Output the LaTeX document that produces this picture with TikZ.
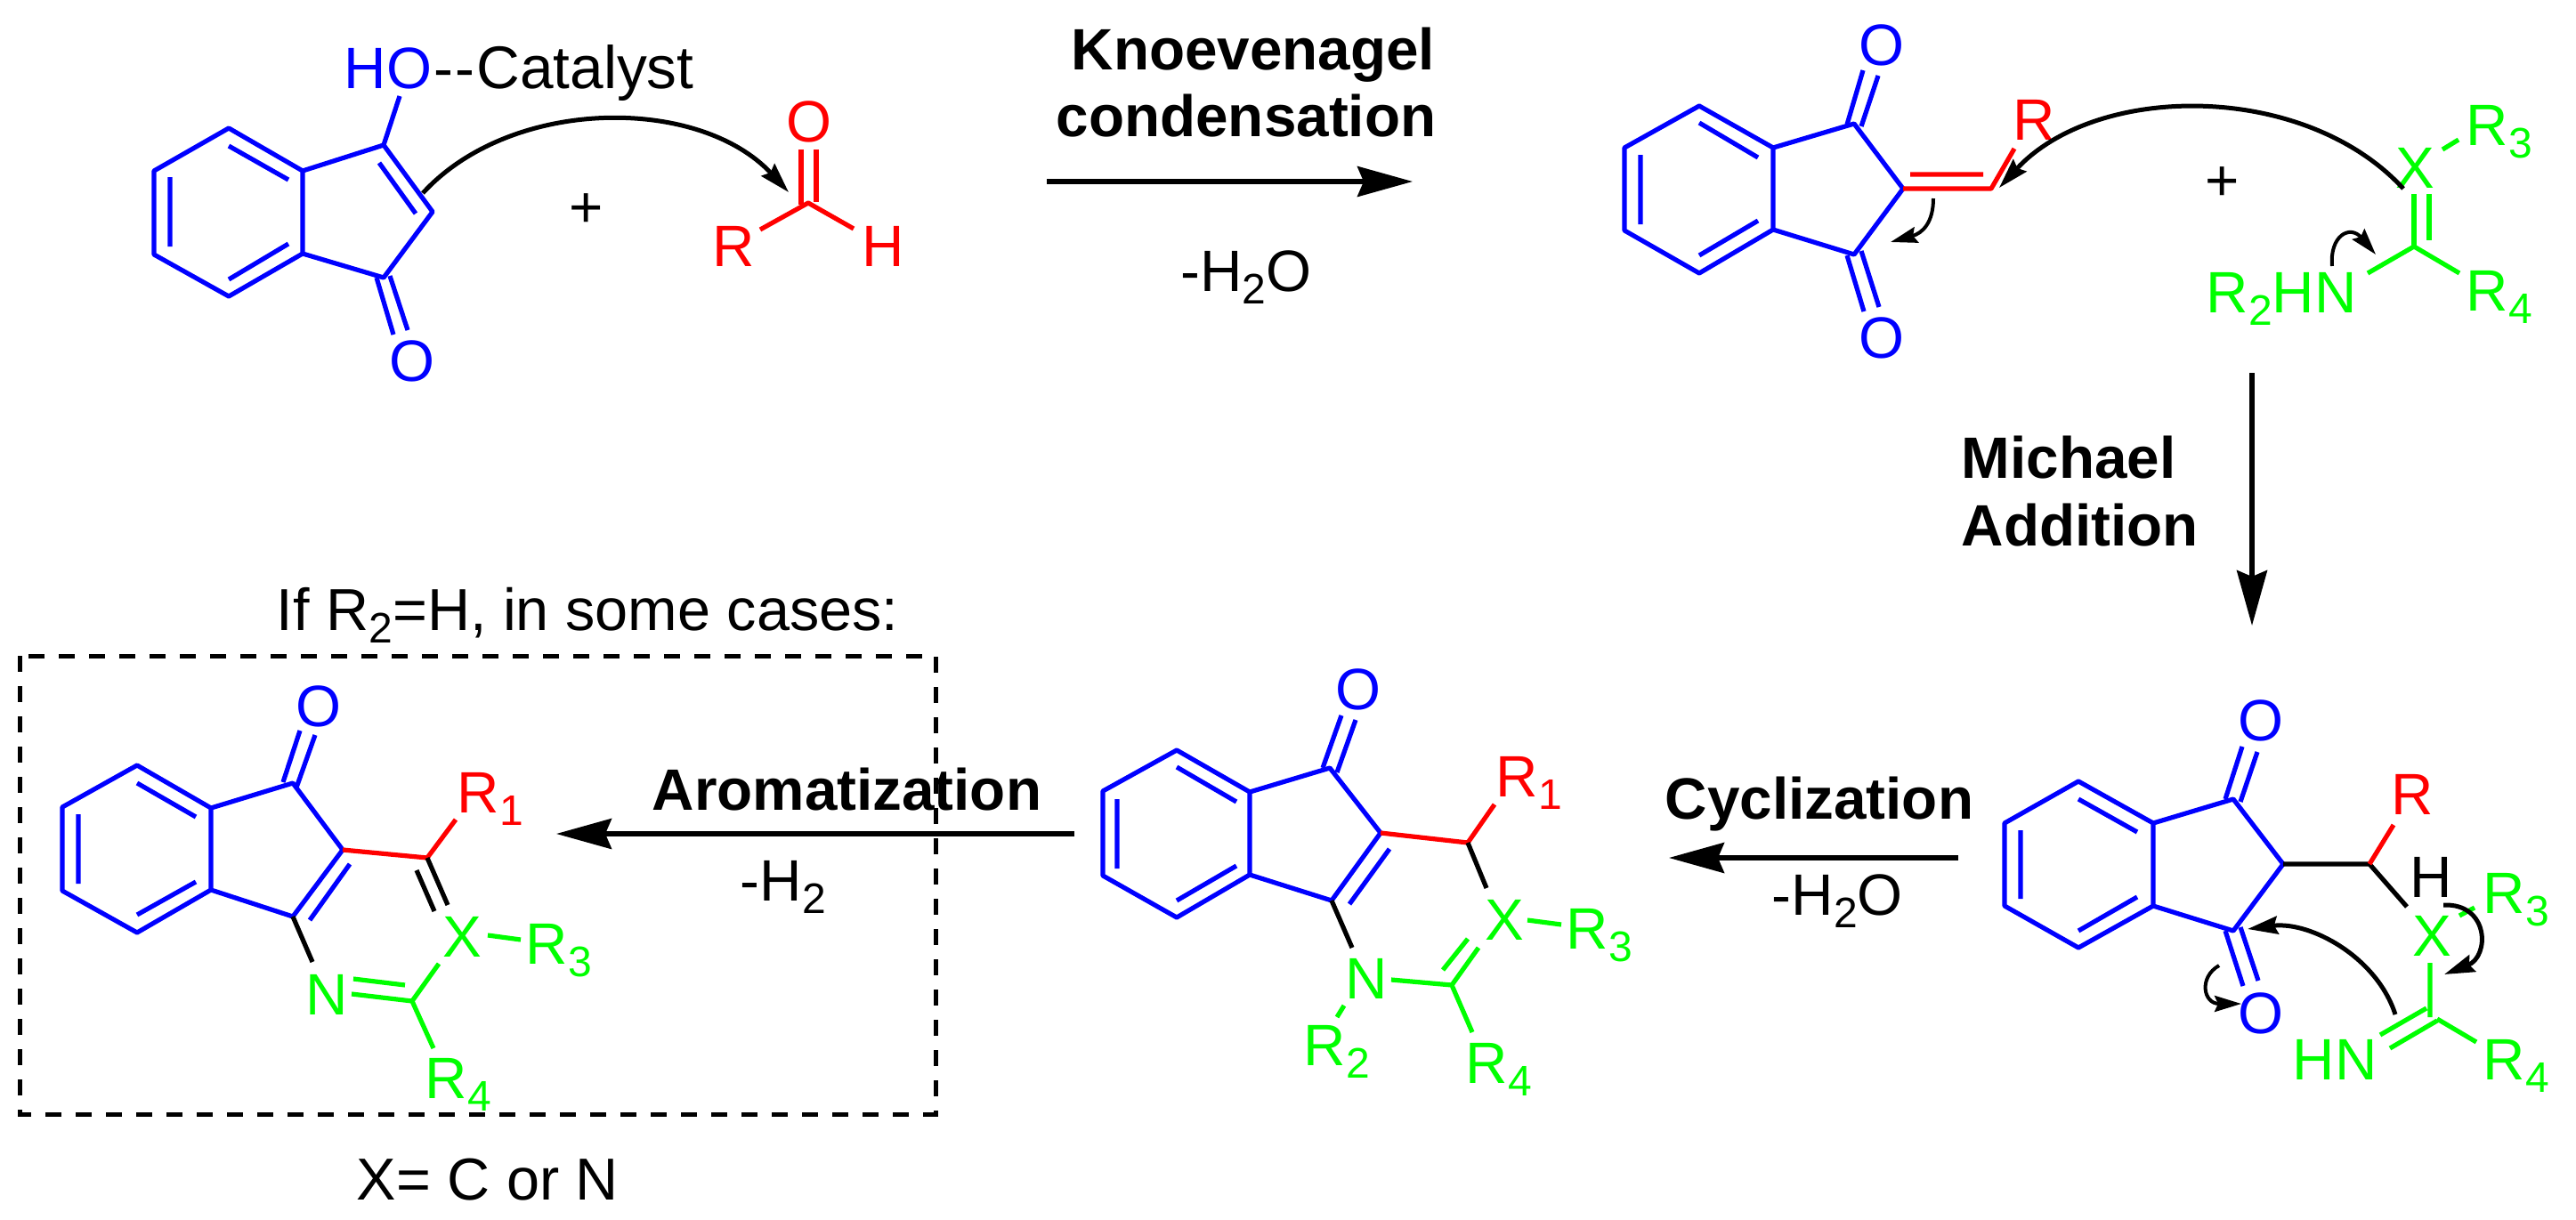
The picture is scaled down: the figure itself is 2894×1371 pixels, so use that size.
\documentclass[tikz,border=0pt]{standalone}
\usepackage{fontspec}
\setmainfont{Liberation Sans}
\usetikzlibrary{arrows.meta}
\newcommand{\subs}[1]{\raisebox{-3.5pt}{\fontsize{12pt}{12pt}\selectfont #1}}
\newcommand{\atoms}[1]{\foreach \n/\x/\y in {#1} \coordinate (\n) at (\x,\y);}
\newcommand{\indane}[1]{\draw[blueb] (#11)--(#12)--(#13)--(#14)--(#15)--(#16)--cycle (#16)--(#17)--(#18)--(#19)--(#15);
  \draw[blueb] (#1i1)--(#1i2) (#1i3)--(#1i4) (#1i5)--(#1i6);}
\newcommand{\oxo}[2]{\draw[#1] (#21)--(#22) (#23)--(#24);}

\begin{document}
\begin{tikzpicture}[x=.25pt,y=-.25pt]
\tikzset{blueb/.style = {draw=blue,line width=1.3pt,line join=round},
         redb/.style = {draw=red,line width=1.3pt,line join=round},
         greenb/.style = {draw=green,line width=1.3pt,line join=round},
         blackb/.style = {draw=black,line width=1.3pt,line join=round},
         atom/.style = {anchor=base west,inner sep=0pt,font=\fontsize{16.4pt}{18pt}\selectfont},
         note/.style = {atom,font=\fontsize{16.65pt}{18pt}\selectfont},
         label/.style = {atom,font=\fontsize{16.4pt}{18pt}\selectfont\bfseries},
         rxn/.style = {-{Stealth[length=15.5pt,width=8.5pt,inset=1.75pt]},line width=1.3pt},
         push/.style = {-{Stealth[length=8.5pt,width=5pt,inset=1pt]},line width=1.25pt},
         pushs/.style = {-{Stealth[length=7.5pt,width=4.5pt,inset=1pt]},line width=1pt},
         boxline/.style = {line width=1.25pt,dash pattern=on 4.5pt off 4pt}}
\useasboundingbox (0,0) rectangle (2894,1371);

\atoms{a1/257/144,a2/173/192,a3/173/286,a4/257/333,a5/340/285,a6/340/192,a7/431/163,a8/486/238,a9/431/312,
  ai1/257/164,ai2/324/202,ai3/191/199,ai4/191/277,ai5/257/314,ai6/324/274,ai7/426/183,ai8/467/240,
  ahb/449/108,ao1/423/312,ao2/442/376,ao3/438/310,ao4/458/371,
  fc/908/228,fo1/900/168,fo2/900/230,fo3/917/168,fo4/917/227,frb/854/258,fhb/959/257,
  pa/475/217,pb/886/216}
\indane{a}
\draw[blueb] (ai7)--(ai8) (a7)--(ahb);
\oxo{blueb}{ao}
\oxo{redb}{fo}
\draw[redb] (frb)--(fc)--(fhb);
\node[atom] (hoa) at (386,99) {\textcolor{blue}{HO}\hspace{.6pt}{-}\hspace{.6pt}{-}\hspace{.4pt}{\fontsize{16.9pt}{18pt}\selectfont Catalyst}};
\node[atom,text=blue] (oa) at (437,428) {O};
\node[atom,text=red] (of) at (883,159) {O};
\node[atom,text=red] (rf) at (800,299) {R};
\node[atom,text=red] (hf) at (968,299) {H};
\node[atom,anchor=center] (plusa) at (659,237) {+};
\draw[push] (pa) .. controls (575,108) and (786,108) .. (pb);

\atoms{kna/1176/204,knb/1587/204,ma/2530/419,mb/2530/703,cya/2200/964,cyb/1875/964,ara/1207/937,arb/625/937}
\draw[rxn] (kna)--(knb);
\draw[rxn] (ma)--(mb);
\draw[rxn] (cya)--(cyb);
\draw[rxn] (ara)--(arb);
\node[label,anchor=base] (kn1) at (1408,78) {Knoevenagel};
\node[label,anchor=base] (kn2) at (1400,153) {condensation};
\node[atom,anchor=base] (kn3) at (1400,327) {-H\subs{2}O};
\node[label] (mi1) at (2203,537) {Michael};
\node[label] (mi2) at (2203,613) {Addition};
\node[label] (cy1) at (1870,920) {Cyclization};
\node[atom] (cy2) at (1990,1028) {-H\subs{2}O};
\node[label] (ar1) at (732,910) {Aromatization};
\node[atom] (ar2) at (831,1012) {-H\subs{2}};
\node[note] (ifr) at (310,708) {If R\subs{2}=H, in some cases:};
\node[note] (xis) at (400,1348) {X= C or N};

\atoms{b1/1909/119,b2/1825/166,b3/1825/259,b4/1909/307,b5/1992/258,b6/1992/166,b7/2083/139,b8/2138/212,b9/2083/286,
  bi1/1909/138,bi2/1975/177,bi3/1843/174,bi4/1843/252,bi5/1909/287,bi6/1975/248,
  bo1/2075/140,bo2/2093/79,bo3/2091/142,bo4/2110/85,bp1/2075/287,bp2/2094/350,bp3/2091/282,bp4/2111/345,
  bch/2237/212,brb/2263/167,bdb1/2146/196,bdb2/2228/196,
  bx1/2712/218,bx2/2712/277,bx3/2729/218,bx4/2729/270,bnb/2660/307,br4/2763/307,br3a/2744/168,br3b/2762/157,
  qa/2700/212,qb/2246/211,qc/2172/223,qd/2124/272,qe/2620/299,qf/2669/286}
\indane{b}
\oxo{blueb}{bo}
\oxo{blueb}{bp}
\draw[redb] (b8)--(bch)--(brb) (bdb1)--(bdb2);
\oxo{greenb}{bx}
\draw[greenb] (bnb)--(bx2)--(br4) (br3a)--(br3b);
\node[atom,text=blue] (ob1) at (2088,73) {O};
\node[atom,text=blue] (ob2) at (2088,402) {O};
\node[atom,text=red] (rb) at (2261,157) {R};
\node[atom,text=green] (xb) at (2691,211) {X};
\node[atom,text=green] (r3b) at (2770,163) {R\subs{3}};
\node[atom,text=green] (hnb) at (2478,351) {R\subs{2}HN};
\node[atom,text=green] (r4b) at (2770,349) {R\subs{4}};
\node[atom,anchor=center] (plusb) at (2497,207) {+};
\draw[push] (qa) .. controls (2590,92) and (2356,92) .. (qb);
\draw[pushs] (qc) .. controls (2172,250) and (2160,262) .. (qd);
\draw[pushs] (qe) .. controls (2617,265) and (2640,252) .. (qf);

\atoms{c1/2335/878,c2/2252/925,c3/2252/1018,c4/2335/1065,c5/2419/1018,c6/2419/925,c7/2509/898,c8/2565/971,c9/2509/1046,
  ci1/2335/898,ci2/2401/935,ci3/2270/933,ci4/2270/1010,ci5/2335/1046,ci6/2401/1008,
  co1/2500/898,co2/2519/839,co3/2517/901,co4/2536/845,cp1/2500/1046,cp2/2520/1108,cp3/2517/1042,cp4/2537/1102,
  cch/2662/971,crb/2689/927,chb/2704/1019,cr3a/2763/1029,cr3b/2780/1020,cv1/2730/1082,cv2/2730/1143,
  cd1/2674/1163,cd2/2726/1133,cd3/2685/1178,cd4/2738/1147,cr4a/2738/1145,cr4b/2782/1171,
  ra/2691/1140,rb/2525/1044,rc/2745/1017,rd/2746/1095,re/2493/1085,rf/2518/1128}
\indane{c}
\oxo{blueb}{co}
\oxo{blueb}{cp}
\draw[blackb] (c8)--(cch)--(chb);
\draw[redb] (cch)--(crb);
\draw[greenb] (cv1)--(cv2) (cd1)--(cd2) (cd3)--(cd4) (cr4a)--(cr4b) (cr3a)--(cr3b);
\node[atom,text=blue] (oc1) at (2514,832) {O};
\node[atom,text=blue] (oc2) at (2514,1161) {O};
\node[atom,text=red] (rc1) at (2686,915) {R};
\node[atom] (hc) at (2707,1008) {H};
\node[atom,text=green] (xc) at (2710,1074) {X};
\node[atom,text=green] (r3c) at (2789,1026) {R\subs{3}};
\node[atom,text=green] (hnc) at (2575,1213) {HN};
\node[atom,text=green] (r4c) at (2789,1213) {R\subs{4}};
\draw[push] (ra) .. controls (2670,1075) and (2595,1035) .. (rb);
\draw[push] (rc) .. controls (2797,1015) and (2797,1075) .. (rd);
\draw[pushs] (re) .. controls (2470,1098) and (2475,1128) .. (rf);

\atoms{d1/1322/843,d2/1239/889,d3/1239/984,d4/1322/1031,d5/1404/983,d6/1404/890,d7/1494/863,d8/1551/936,d9/1496/1012,
  di1/1322/862,di2/1389/901,di3/1255/898,di4/1255/976,di5/1322/1012,di6/1389/973,di7/1561/954,di8/1516/1016,
  do1/1486/863,do2/1507/804,do3/1502/868,do4/1523/809,
  dch/1649/947,drb/1679/904,dxb/1670/998,dnb/1519/1065,dn1/1563/1101,dc/1631/1107,dx1/1661/1065,dx2/1621/1090,dx3/1649/1055,
  dr4/1654/1160,dr3a/1716/1034,dr3b/1754/1039,dr2a/1510/1130,dr2b/1502/1143}
\indane{d}
\draw[blueb] (di7)--(di8);
\oxo{blueb}{do}
\draw[redb] (d8)--(dch)--(drb);
\draw[blackb] (dch)--(dxb) (d9)--(dnb);
\draw[greenb] (dn1)--(dc)--(dx1) (dx2)--(dx3) (dc)--(dr4) (dr3a)--(dr3b) (dr2a)--(dr2b);
\node[atom,text=blue] (od) at (1500,797) {O};
\node[atom,text=red] (r1d) at (1680,895) {R\subs{1}};
\node[atom,text=green] (xd) at (1668,1056) {X};
\node[atom,text=green] (r3d) at (1759,1066) {R\subs{3}};
\node[atom,text=green] (nd) at (1511,1122) {N};
\node[atom,text=green] (r2d) at (1464,1197) {R\subs{2}};
\node[atom,text=green] (r4d) at (1646,1217) {R\subs{4}};

\atoms{e1/154/860,e2/70/907,e3/70/1001,e4/154/1048,e5/237/1000,e6/237/908,e7/329/880,e8/385/955,e9/329/1030,
  ei1/154/880,ei2/220/918,ei3/88/915,ei4/88/993,ei5/154/1028,ei6/220/991,ei7/393/971,ei8/348/1034,
  eo1/318/879,eo2/337/821,eo3/333/885,eo4/354/826,
  ech/480/964,erb/512/921,ed1/503/1017,ed2/468/978,ed3/488/1024,enb/351/1081,ec/463/1125,en1/395/1117,en2/397/1100,en3/455/1107,
  exb/493/1083,er4/487/1178,er3a/548/1051,er3b/585/1056,boxa/22/737,boxb/1051/1252}
\indane{e}
\draw[blueb] (ei7)--(ei8);
\oxo{blueb}{eo}
\draw[redb] (e8)--(ech)--(erb);
\draw[blackb] (ech)--(ed1) (ed2)--(ed3) (e9)--(enb);
\draw[greenb] (en1)--(ec)--(exb) (en2)--(en3) (ec)--(er4) (er3a)--(er3b);
\node[atom,text=blue] (oe) at (332,816) {O};
\node[atom,text=red] (r1e) at (513,913) {R\subs{1}};
\node[atom,text=green] (xe) at (497,1075) {X};
\node[atom,text=green] (r3e) at (590,1083) {R\subs{3}};
\node[atom,text=green] (ne) at (343,1140) {N};
\node[atom,text=green] (r4e) at (477,1234) {R\subs{4}};
\draw[boxline] (boxa) rectangle (boxb);
\end{tikzpicture}
\end{document}
